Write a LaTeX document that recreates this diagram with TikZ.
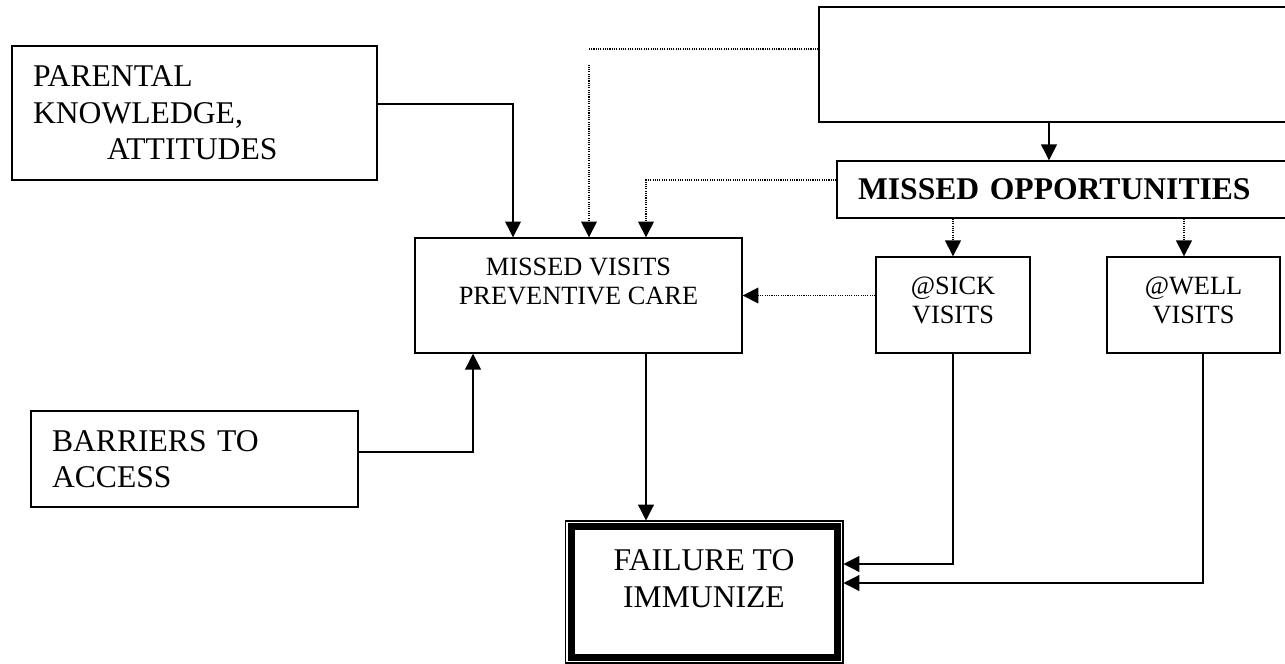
\documentclass[tikz,border=0pt]{standalone}
\usepackage{fontspec}
\setmainfont{Liberation Serif}
\usetikzlibrary{arrows.meta}

\begin{document}
\begin{tikzpicture}[x=0.02cm, y=-0.02cm,
	square/.style={rectangle, draw=black, line width=0.8pt, inner sep=0pt, align=center},
	big/.style={font=\fontsize{18}{20.8}\selectfont},
	small/.style={font=\fontsize{15}{16.5}\selectfont},
	leftbox/.style={align=left, inner xsep=0.42cm},
	dotline/.style={line width=0.8pt, dash pattern=on 0.6pt off 0.7pt},
	link/.style={line width=0.7pt},
	>={Triangle[length=9pt, width=9pt]}]
	
	\useasboundingbox (0,0) rectangle (1285,663);
	\clip (0,0) rectangle (1285,663);
	
	%Nodes
	\node[square, big, leftbox, minimum width=7.3cm, minimum height=2.68cm, text width=6.46cm]	(pka)	at (194.5,113) {PARENTAL\\KNOWLEDGE,\\\hspace*{1.48cm}ATTITUDES};
	\node[square, big, leftbox, minimum width=6.54cm, minimum height=1.92cm, text width=5.7cm]	(bta)	at (194.5,459) {BARRIERS TO\\ACCESS};
	\node[square, small, minimum width=6.54cm, minimum height=2.3cm]	(mvp)	at (578.5,295.5) {MISSED VISITS\\PREVENTIVE CARE\\\mbox{}};
	\node[square, minimum width=9.62cm, minimum height=2.3cm]	(sys)	at (1059.5,64.5) {};
	\node[square, big, leftbox, minimum width=9.26cm, minimum height=1.14cm, text width=8.42cm, font=\fontsize{18}{20.8}\selectfont\bfseries]	(mop)	at (1068.5,189.5) {MISSED OPPORTUNITIES};
	\node[square, small, minimum width=3.08cm, minimum height=1.92cm]	(sick)	at (953,305) {@SICK\\VISITS\\[-0.38cm]\mbox{}};
	\node[square, small, minimum width=3.46cm, minimum height=1.92cm]	(well)	at (1193.5,305) {@WELL\\VISITS\\[-0.38cm]\mbox{}};
	\node[square, big, line width=0.6pt, minimum width=5.56cm, minimum height=2.84cm]	(fti)	at (704,592) {FAILURE TO\\IMMUNIZE\\[-0.2cm]\mbox{}};
	\draw[black, line width=0.14cm] ([shift={(0.13cm,-0.13cm)}]fti.north west) rectangle ([shift={(-0.13cm,0.13cm)}]fti.south east);
	
	\coordinate (vtop)	at ([xshift=0.21cm]mvp.north);
	\coordinate (vmid)	at ([xshift=1.35cm]mvp.north);
	\coordinate (wtop)	at ([xshift=-0.19cm]well.north);
	
	%Lines
	\draw[black, link, ->] ([yshift=0.18cm]pka.east) -| ([xshift=-1.31cm]mvp.north);
	\draw[black, dotline] ([yshift=0.31cm]sys.west) -- ([yshift=0.31cm]sys.west -| vtop);
	\draw[black, dotline, ->] (sys.west -| vtop) -- (vtop);
	\draw[black, dotline, ->] ([yshift=0.19cm]mop.west) -| (vmid);
	\draw[black, link, ->] ([xshift=-0.21cm]sys.south) -- ([xshift=-0.21cm]sys.south |- mop.north);
	\draw[black, dotline, ->] (mop.south -| sick.north) -- (sick.north);
	\draw[black, dotline, ->] (mop.south -| wtop) -- (wtop);
	\draw[black, dotline, ->] (sick.west |- mvp.east) -- (mvp.east);
	\draw[black, link, ->] ([yshift=0.14cm]bta.east) -| ([xshift=-2.11cm]mvp.south);
	\draw[black, link, ->] (mvp.south -| vmid) -- (fti.north -| vmid);
	\draw[black, link, ->] (sick.south) |- ([yshift=0.56cm]fti.east);
	\draw[black, link, ->] ([xshift=0.19cm]well.south) |- ([yshift=0.18cm]fti.east);
\end{tikzpicture}
\end{document}
